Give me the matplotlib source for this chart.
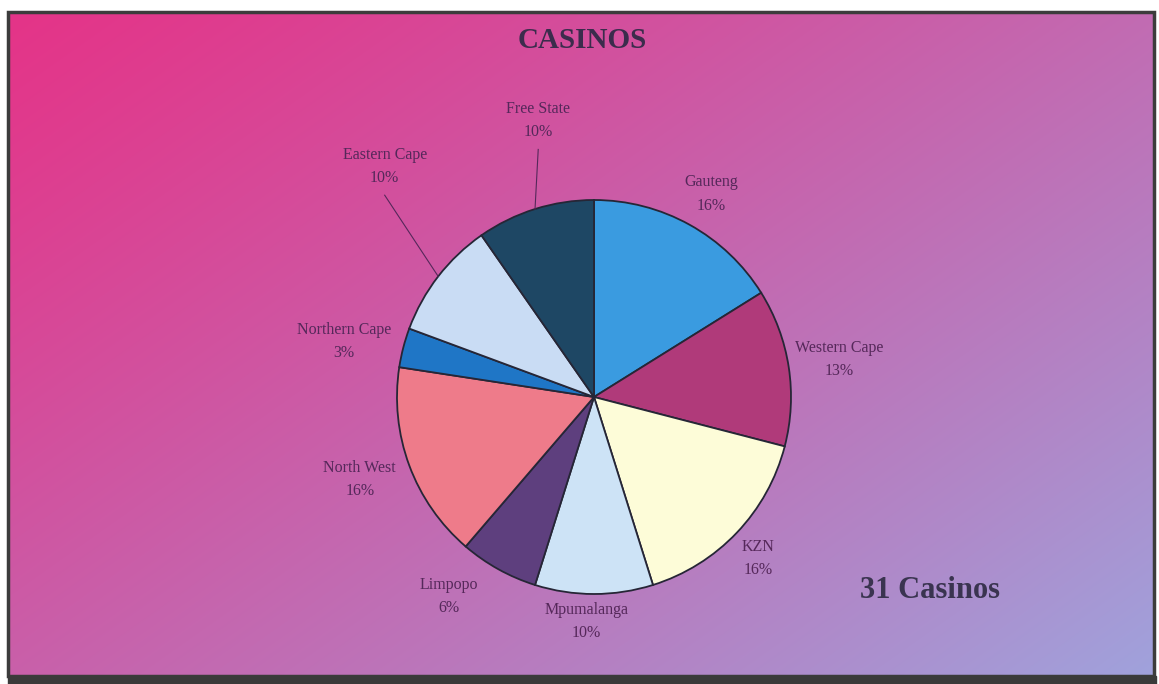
import numpy as np
import matplotlib.pyplot as plt
from matplotlib.patches import Rectangle

# Casino count per province (31 in total)
provinces = ['Gauteng', 'Western Cape', 'KZN', 'Mpumalanga', 'Limpopo',
             'North West', 'Northern Cape', 'Eastern Cape', 'Free State']
casinos = [5, 4, 5, 3, 2, 5, 1, 3, 3]
pct_labels = ['16%', '13%', '16%', '10%', '6%', '16%', '3%', '10%', '10%']
slice_colors = ['#3a9be0', '#b03a7a', '#fdfcd8', '#cde3f6', '#5e3f7e',
                '#ee7b8a', '#1f76c6', '#c9dcf4', '#1e4764']
title = 'CASINOS'
total_text = '31 Casinos'

# label placement: (distance from centre in radii, angle offset in degrees)
label_pos = [(1.19, -1), (1.26, 0), (1.17, -1), (1.14, -2), (1.25, -7),
             (1.26, -1), (1.30, 2), (1.58, -10), (1.43, -6)]
leader = [False, False, False, False, False, False, False, True, True]

W, H = 1159, 684
fig = plt.figure(figsize=(W / 100, H / 100), dpi=100)
fig.patch.set_facecolor('white')

# background panel with diagonal pink -> lavender gradient
bg = fig.add_axes([0, 0, 1, 1])
bg.set_xlim(0, W)
bg.set_ylim(H, 0)
bg.axis('off')
x0, x1, y0, y1 = 8, 1154, 12, 676
xx, yy = np.meshgrid(np.linspace(0, 1, 300), np.linspace(0, 1, 200))
t = np.clip(0.55 * xx + 0.45 * yy, 0, 1) ** 1.15
c0 = np.array([228, 52, 136]) / 255
c1 = np.array([160, 162, 220]) / 255
grad = c0 + (c1 - c0) * t[..., None]
bg.imshow(grad, extent=(x0, x1, y1, y0), aspect='auto', interpolation='bilinear')
bg.add_patch(Rectangle((x0, y0), x1 - x0, y1 - y0, fill=False,
                       edgecolor='#3c3c3c', linewidth=2.5))
bg.add_patch(Rectangle((x0, y1), x1 - x0 + 2, H - y1, color='#3a3a3a'))

bg.text(582, 40, title, ha='center', va='center', fontsize=21,
        fontweight='bold', family='Liberation Serif', color='#3b2c4c')
bg.text(930, 591, total_text, ha='center', va='center', fontsize=22,
        fontweight='bold', family='Liberation Serif', color='#3a3450')

# pie axes: centre at (594, 397) px, radius 197 px
R, cx, cy = 197, 594, 397
ax = fig.add_axes([(cx - R) / W, (H - cy - R) / H, 2 * R / W, 2 * R / H])
wedges, _ = ax.pie(casinos, startangle=90, counterclock=False,
                   colors=slice_colors,
                   wedgeprops=dict(edgecolor='#262636', linewidth=1.3))
ax.set_xlim(-1, 1)
ax.set_ylim(-1, 1)
ax.axis('off')

for w, name, pct, (dist, off), lead in zip(wedges, provinces, pct_labels,
                                            label_pos, leader):
    mid = np.deg2rad((w.theta1 + w.theta2) / 2)
    ang = mid + np.deg2rad(off)
    lx, ly = dist * np.cos(ang), dist * np.sin(ang)
    ax.text(lx, ly, name + '\n' + pct, ha='center', va='center',
            fontsize=11.5, family='Liberation Serif', color='#55285a',
            linespacing=1.6, clip_on=False)
    if lead:
        ax.plot([lx, np.cos(mid)], [ly - 0.145, np.sin(mid)],
                color='#55285a', linewidth=0.8, clip_on=False)

fig.savefig('out.png', dpi=100, facecolor=fig.get_facecolor())
